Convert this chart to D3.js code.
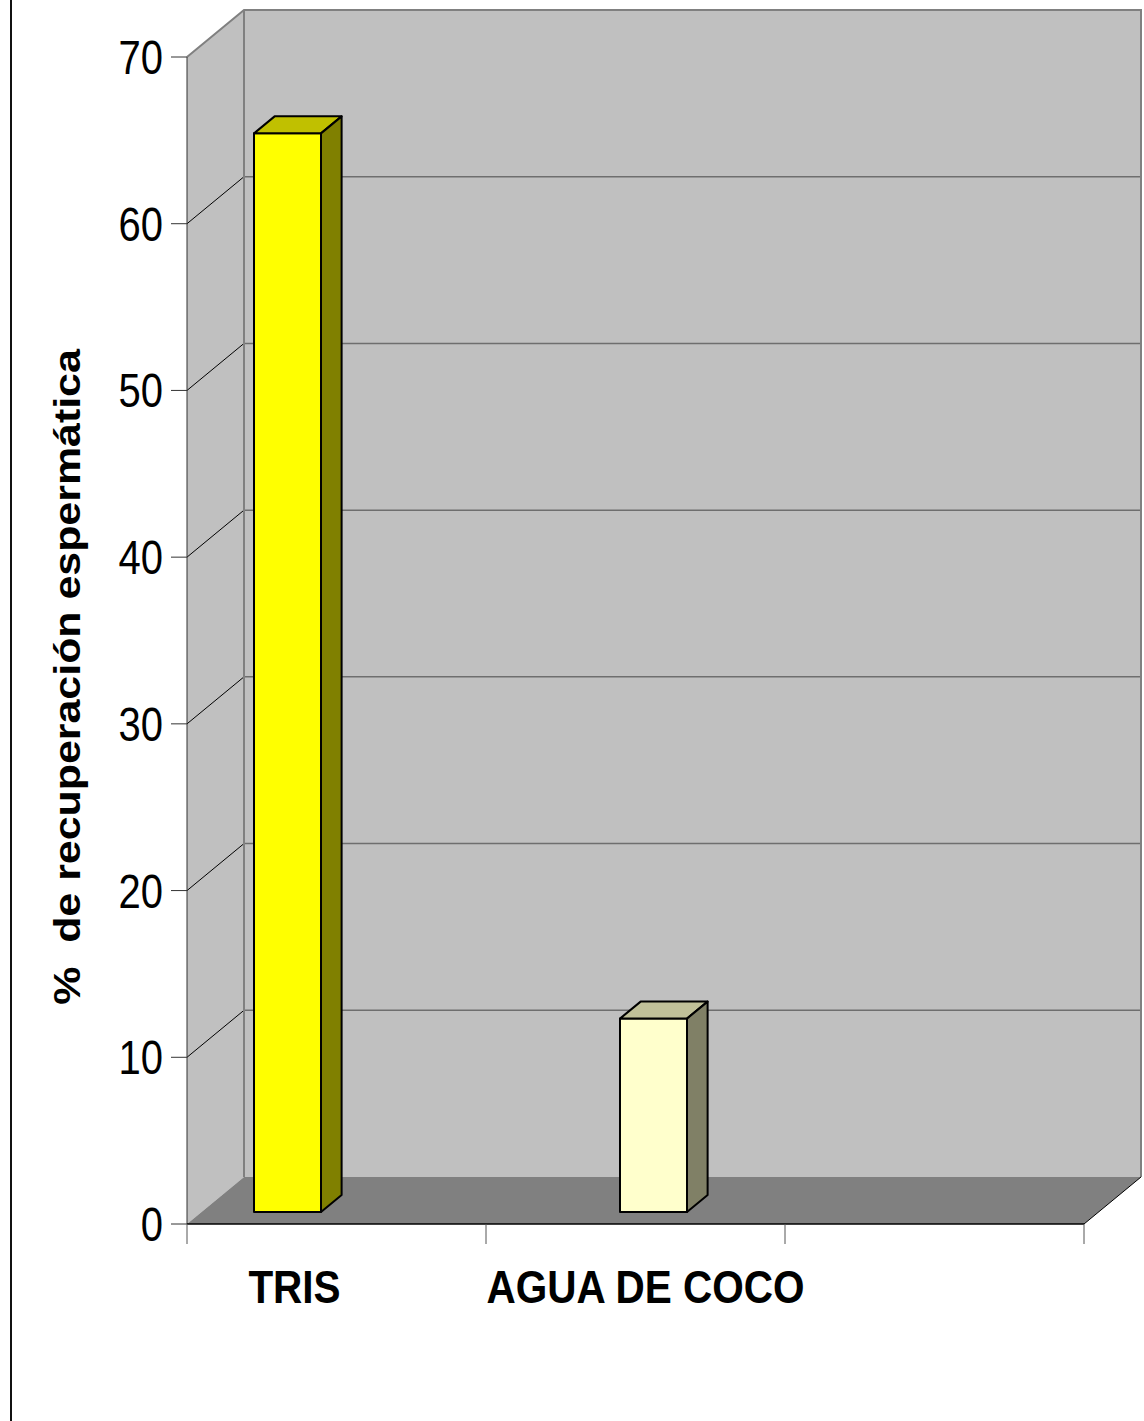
<!DOCTYPE html>
<html>
<head>
<meta charset="utf-8">
<script src="https://cdn.jsdelivr.net/npm/d3@7"></script>
<style>
	body { margin: 0; background: #fff; }
	text { font-family: "Liberation Sans", Arial, sans-serif; fill: #000; white-space: pre; }
</style>
</head>
<body>
<div id="chart"></div>
<script>
// data
const categories = ["TRIS", "AGUA DE COCO"];
const recovery = [64.7, 11.6];
const yTicks = [0, 10, 20, 30, 40, 50, 60, 70];
const yTitle = "%  de recuperación espermática";

// colours for each bar: front, top, side
const barColors = [
	{ front: "#FFFF00", top: "#C0C000", side: "#808000" },
	{ front: "#FFFFCC", top: "#C0C099", side: "#808066" }
];

const width = 1144, height = 1421;

// plot box (front plane) and depth offset of the 3d walls
const plot = { left: 187, right: 1084, top: 57, bottom: 1224 };
const depth = { dx: 57, dy: -47 };
// bars sit partway into the depth
const barDepth = { front: 12 / 47, back: 29 / 47 };
const barWidth = 67;

const svg = d3.select("#chart").append("svg")
	.attr("width", width)
	.attr("height", height);

// left border line
svg.append("line")
	.attr("x1", 11).attr("x2", 11)
	.attr("y1", 0).attr("y2", height)
	.attr("stroke", "#111")
	.attr("stroke-width", 2);

// scales
const y = d3.scaleLinear().domain([0, 70]).range([plot.bottom, plot.top]);
const slots = categories.concat([""]);
const x = d3.scaleBand().domain(slots).range([plot.left, plot.right]);
const barX = d3.scalePoint().domain(categories).range([287.5, 653.5]);
const labelX = d3.scalePoint().domain(categories).range([294.5, 645.5]);

const pt = (px, py) => px + "," + py;

// back wall
svg.append("rect")
	.attr("x", plot.left + depth.dx)
	.attr("y", plot.top + depth.dy)
	.attr("width", plot.right - plot.left)
	.attr("height", plot.bottom - plot.top)
	.attr("fill", "#C0C0C0");

// side wall
svg.append("polygon")
	.attr("points", [
		pt(plot.left, plot.top),
		pt(plot.left + depth.dx, plot.top + depth.dy),
		pt(plot.left + depth.dx, plot.bottom + depth.dy),
		pt(plot.left, plot.bottom)
	].join(" "))
	.attr("fill", "#C0C0C0");

// floor
svg.append("polygon")
	.attr("points", [
		pt(plot.left, plot.bottom),
		pt(plot.right, plot.bottom),
		pt(plot.right + depth.dx, plot.bottom + depth.dy),
		pt(plot.left + depth.dx, plot.bottom + depth.dy)
	].join(" "))
	.attr("fill", "#808080");

// gridlines on back wall
svg.selectAll(".grid")
	.data(yTicks.filter(d => d > 0 && d < 70))
	.enter().append("line")
	.attr("class", "grid")
	.attr("x1", plot.left + depth.dx)
	.attr("x2", plot.right + depth.dx)
	.attr("y1", d => y(d) + depth.dy)
	.attr("y2", d => y(d) + depth.dy)
	.attr("stroke", "#6E6E6E")
	.attr("stroke-width", 1.5);

// gridlines on side wall
svg.selectAll(".sidegrid")
	.data(yTicks.filter(d => d > 0 && d < 70))
	.enter().append("line")
	.attr("class", "sidegrid")
	.attr("x1", plot.left)
	.attr("x2", plot.left + depth.dx)
	.attr("y1", d => y(d))
	.attr("y2", d => y(d) + depth.dy)
	.attr("stroke", "#000")
	.attr("stroke-width", 1);

// wall edges
const edges = svg.append("g")
	.attr("fill", "none")
	.attr("stroke", "#808080")
	.attr("stroke-width", 2);
edges.append("polyline")
	.attr("points", [
		pt(plot.left, plot.top),
		pt(plot.left + depth.dx, plot.top + depth.dy),
		pt(plot.right + depth.dx, plot.top + depth.dy),
		pt(plot.right + depth.dx, plot.bottom + depth.dy)
	].join(" "));
edges.append("line")
	.attr("x1", plot.left + depth.dx).attr("x2", plot.left + depth.dx)
	.attr("y1", plot.top + depth.dy).attr("y2", plot.bottom + depth.dy);

// floor right edge
svg.append("line")
	.attr("x1", plot.right).attr("y1", plot.bottom)
	.attr("x2", plot.right + depth.dx).attr("y2", plot.bottom + depth.dy)
	.attr("stroke", "#000")
	.attr("stroke-width", 1);

// bars
const bars = svg.selectAll(".bar")
	.data(categories.map((c, i) => ({ cat: c, value: recovery[i], col: barColors[i] })))
	.enter().append("g")
	.attr("class", "bar")
	.attr("stroke", "#000")
	.attr("stroke-width", 2)
	.attr("stroke-linejoin", "round");

const fx = d => barX(d.cat) - barWidth / 2;
const offF = { x: depth.dx * barDepth.front, y: depth.dy * barDepth.front };
const offB = { x: depth.dx * barDepth.back, y: depth.dy * barDepth.back };
const bdx = offB.x - offF.x, bdy = offB.y - offF.y;

// front face
bars.append("rect")
	.attr("x", d => fx(d))
	.attr("y", d => y(d.value) + offF.y)
	.attr("width", barWidth)
	.attr("height", d => y(0) - y(d.value))
	.attr("fill", d => d.col.front);

// top face
bars.append("polygon")
	.attr("points", d => {
		const x0 = fx(d), yt = y(d.value) + offF.y;
		return [pt(x0, yt), pt(x0 + bdx, yt + bdy), pt(x0 + barWidth + bdx, yt + bdy), pt(x0 + barWidth, yt)].join(" ");
	})
	.attr("fill", d => d.col.top);

// side face
bars.append("polygon")
	.attr("points", d => {
		const x1 = fx(d) + barWidth, yt = y(d.value) + offF.y, yb = y(0) + offF.y;
		return [pt(x1, yt), pt(x1 + bdx, yt + bdy), pt(x1 + bdx, yb + bdy), pt(x1, yb)].join(" ");
	})
	.attr("fill", d => d.col.side);

// y axis
const yAxis = svg.append("g");
yAxis.append("line")
	.attr("x1", plot.left).attr("x2", plot.left)
	.attr("y1", plot.top).attr("y2", plot.bottom)
	.attr("stroke", "#333")
	.attr("stroke-width", 1);
yAxis.selectAll(".ytick")
	.data(yTicks)
	.enter().append("line")
	.attr("x1", plot.left - 16).attr("x2", plot.left)
	.attr("y1", d => y(d)).attr("y2", d => y(d))
	.attr("stroke", "#333")
	.attr("stroke-width", 1);
yAxis.selectAll(".ylabel")
	.data(yTicks)
	.enter().append("text")
	.attr("transform", d => "translate(163," + (y(d) + 17) + ") scale(1,1.2)")
	.attr("text-anchor", "end")
	.style("font-size", "40px")
	.text(d => d);

// x axis
const xAxis = svg.append("g");
xAxis.append("line")
	.attr("x1", plot.left).attr("x2", plot.right)
	.attr("y1", plot.bottom).attr("y2", plot.bottom)
	.attr("stroke", "#000")
	.attr("stroke-width", 1.5);
xAxis.selectAll(".xtick")
	.data(slots.map(s => x(s)).concat([plot.right]))
	.enter().append("line")
	.attr("x1", d => d).attr("x2", d => d)
	.attr("y1", plot.bottom).attr("y2", plot.bottom + 20)
	.attr("stroke", "#555")
	.attr("stroke-width", 1);
xAxis.selectAll(".xlabel")
	.data(categories)
	.enter().append("text")
	.attr("transform", d => "translate(" + labelX(d) + ",1303) scale(1,1.13)")
	.attr("text-anchor", "middle")
	.style("font-size", "40.5px")
	.style("font-weight", "bold")
	.text(d => d);

// y title
svg.append("text")
	.attr("transform", "translate(80,677) rotate(-90) scale(1.16,1)")
	.attr("text-anchor", "middle")
	.style("font-size", "37px")
	.style("font-weight", "bold")
	.text(yTitle);
</script>
</body>
</html>
